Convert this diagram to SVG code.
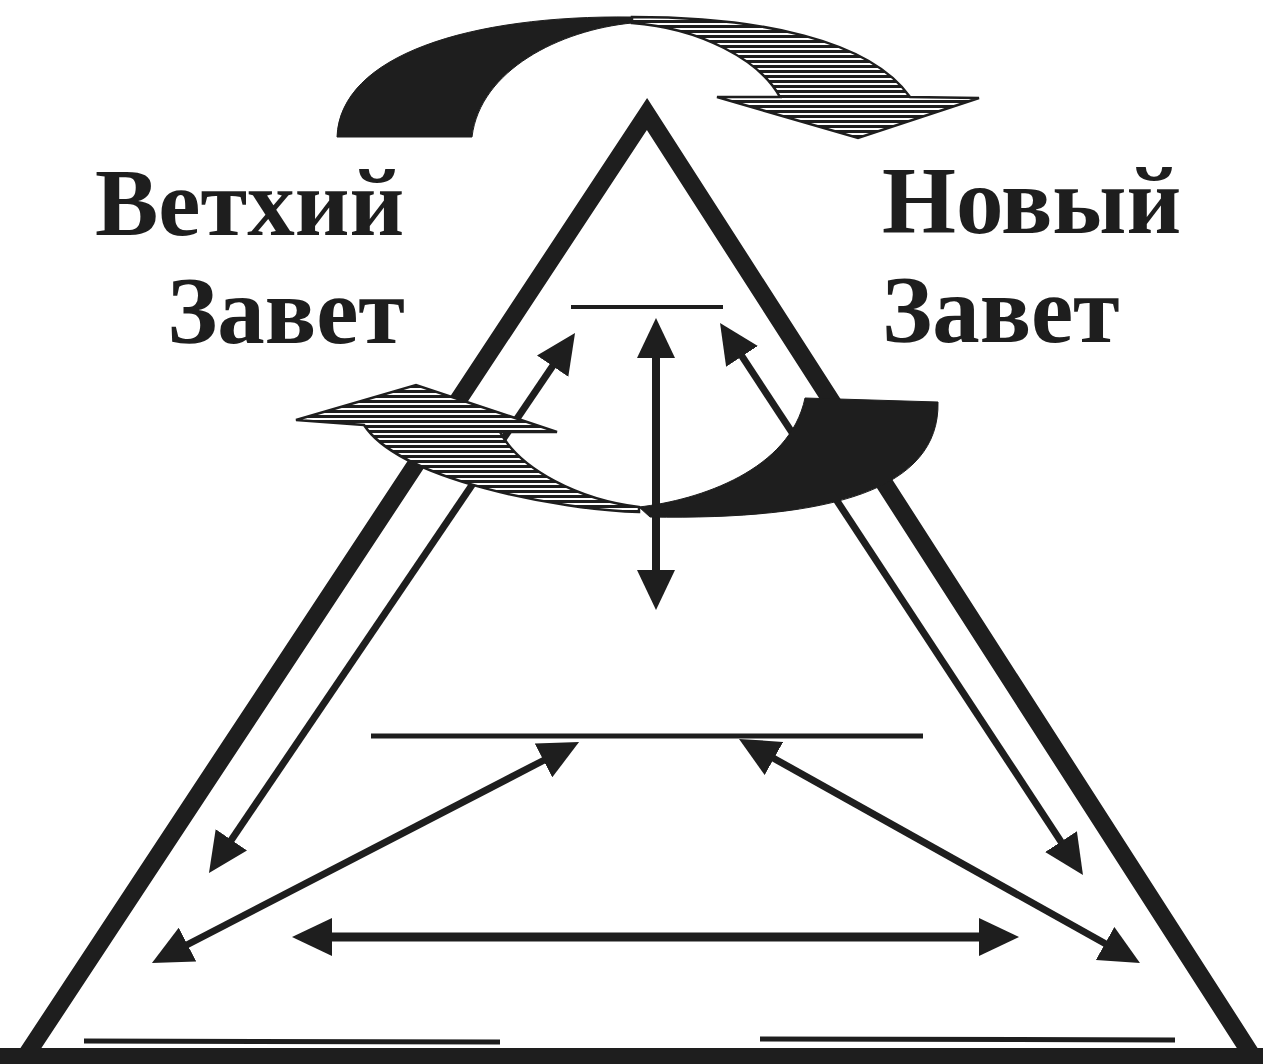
<svg xmlns="http://www.w3.org/2000/svg" width="1263" height="1064" viewBox="0 0 1263 1064">
<style>
.ink{fill:#1e1e1e}
.tri{fill:none;stroke:#1e1e1e;stroke-width:17.5;stroke-linejoin:miter}
.bar{stroke:#1e1e1e;fill:none}
.arr{stroke:#1e1e1e;fill:none;marker-start:url(#head);marker-end:url(#head)}
.lbl{font-family:"Liberation Serif","Times New Roman",serif;font-weight:bold;font-size:95px;fill:#1e1e1e}
.hatch{fill:url(#stripes);stroke:#1e1e1e;stroke-width:2.5;stroke-linejoin:miter}
.solid{fill:#1e1e1e;stroke:#1e1e1e;stroke-width:1}
</style>
<defs>
<marker id="head" markerUnits="userSpaceOnUse" viewBox="0 -19 40 38" markerWidth="40" markerHeight="38" refX="2" refY="0" orient="auto-start-reverse">
<path d="M0,-19 L40,0 L0,19 Z" fill="#1e1e1e"/>
</marker>
<pattern id="stripes" patternUnits="userSpaceOnUse" width="10" height="5">
<rect x="0" y="0" width="10" height="5" fill="#ffffff"/>
<rect x="0" y="0" width="10" height="3" fill="#1e1e1e"/>
</pattern>
</defs>
<rect x="0" y="0" width="1263" height="1064" fill="#ffffff"/>

<g id="triangle">
<polygon class="tri" points="647,114 25,1057 1253,1057"/>
<rect class="ink" x="0" y="1048" width="1263" height="16"/>
</g>

<g id="levels">
<line id="line-top" class="bar" x1="571" y1="307" x2="723" y2="307" stroke-width="4"/>
<line id="line-middle" class="bar" x1="371" y1="736" x2="923" y2="736" stroke-width="5"/>
<line id="line-bottom-left" class="bar" x1="84" y1="1041" x2="500" y2="1042" stroke-width="5"/>
<line id="line-bottom-right" class="bar" x1="760" y1="1039" x2="1175" y2="1040" stroke-width="5"/>
</g>

<g id="labels">
<g id="old-testament">
<text class="lbl" x="95" y="235">Ветхий</text>
<text class="lbl" x="405" y="343" text-anchor="end">Завет</text>
</g>
<g id="new-testament">
<text class="lbl" x="882" y="233">Новый</text>
<text class="lbl" x="882" y="342">Завет</text>
</g>
</g>

<g id="connectors">
<line class="arr" x1="656" y1="356" x2="656" y2="572" stroke-width="8"/>
<line class="arr" x1="553.7" y1="364.5" x2="230.3" y2="841.5" stroke-width="7"/>
<line class="arr" x1="740.9" y1="354.7" x2="1062.1" y2="843.3" stroke-width="7"/>
<line class="arr" x1="545.3" y1="759.5" x2="185.7" y2="945.5" stroke-width="7"/>
<line class="arr" x1="772.2" y1="757.5" x2="1106.8" y2="944.5" stroke-width="7"/>
<line class="arr" x1="330" y1="937" x2="981" y2="937" stroke-width="9"/>
</g>

<g id="top-curved-arrow">
<path class="solid" d="M337,137 C340,55 470,15 632,17 L632,23 C560,30 480,70 472,137 Z"/>
<path class="hatch" d="M632,17 C760,17 870,40 910,97 L979,98 L858,138 L717,97 L780,97 C760,60 700,28 632,23 Z"/>
</g>

<g id="bottom-curved-arrow">
<path class="hatch" d="M639,512 C560,510 400,480 364,425 L296,420 L416,385 L557,432 L500,432 C520,470 580,500 639,507 Z"/>
<path class="solid" d="M639,507 C700,500 790,470 805,398 L938,402 C940,490 830,520 650,517 Z"/>
</g>
</svg>
